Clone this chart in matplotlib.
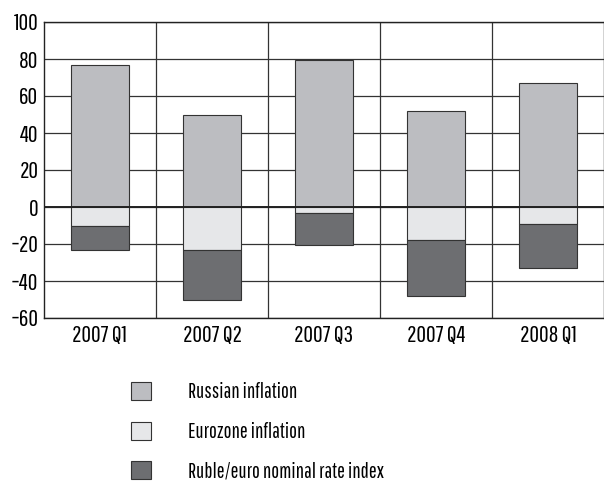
import matplotlib
matplotlib.use("Agg")
import matplotlib.pyplot as plt
import numpy as np

plt.rcParams['font.family'] = ['Pathway Gothic One', 'DejaVu Sans']

quarters = ['2007 Q1', '2007 Q2', '2007 Q3', '2007 Q4', '2008 Q1']
russian = [77, 50, 79.5, 52, 67]
eurozone = [-10, -23, -3, -18, -9]
ruble = [-13, -27, -17.5, -30, -24]

c_rus = '#bcbdc1'
c_euro = '#e6e7e9'
c_rub = '#6d6e71'

fig = plt.figure(figsize=(6.04, 4.82), dpi=100)
ax = fig.add_axes([44/604, 164/482, 1 - 44/604, 296/482])

x = np.arange(len(quarters))
width = 0.52
ax.bar(x, russian, width, color=c_rus, edgecolor='#333333', linewidth=0.8,
       label='Russian inflation', zorder=3)
ax.bar(x, eurozone, width, color=c_euro, edgecolor='#333333', linewidth=0.8,
       label='Eurozone inflation', zorder=3)
ax.bar(x, ruble, width, bottom=eurozone, color=c_rub, edgecolor='#333333',
       linewidth=0.8, label='Ruble/euro nominal rate index', zorder=3)

ax.set_xlim(-0.5, len(quarters) - 0.5)
ax.set_ylim(-60, 100)
ax.set_yticks(np.arange(-60, 101, 20))
ax.set_xticks(x)
ax.set_xticklabels(quarters)
ax.set_xticks(x[:-1] + 0.5, minor=True)
ax.grid(True, which='minor', axis='x', color='#333333', linewidth=0.9, zorder=1)
ax.grid(True, which='major', axis='y', color='#333333', linewidth=0.9, zorder=1)
ax.axhline(0, color='#222222', linewidth=1.4, zorder=4)
ax.tick_params(which='both', length=0, labelsize=17, pad=4)
for s in ax.spines.values():
    s.set_color('#222222')
    s.set_linewidth(1.0)

handles, labels = ax.get_legend_handles_labels()
fig.legend(handles, labels, loc='upper left', bbox_to_anchor=(123/604, 1 - 374/482),
           frameon=False, fontsize=15, handlelength=0.95, handleheight=0.95,
           handletextpad=1.75, labelspacing=0.92, borderaxespad=0)

fig.savefig('out.png', dpi=100)
